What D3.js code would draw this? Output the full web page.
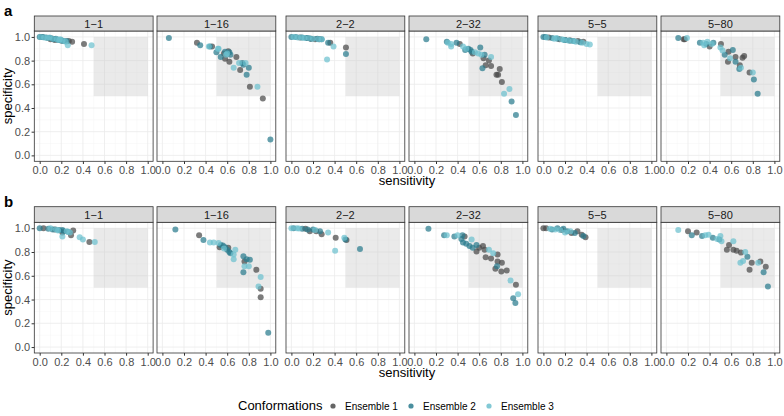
<!DOCTYPE html>
<html><head><meta charset="utf-8">
<script src="https://cdn.jsdelivr.net/npm/d3@7"></script>
<style>body{margin:0;background:#fff}svg{display:block;font-family:"Liberation Sans",Arial,sans-serif}</style>
</head><body><svg id="c" width="784" height="416"></svg>
<script>
// ---- DATA: [sensitivity, specificity, ensemble(1..3)] ----
const panelNames = ["1\u22121","1\u221216","2\u22122","2\u221232","5\u22125","5\u221280"];
const ensembles = ["Ensemble 1","Ensemble 2","Ensemble 3"];
const tickVals = [0,0.2,0.4,0.6,0.8,1.0];
const rowLabels = ["a","b"];

const a_1_1 = [[0.02,1.0,1],[0.08,0.99,1],[0.1,0.98,1],[0.14,0.975,1],[0.2,0.97,1],[0.27,0.965,1],[0.3,0.96,1],[0.41,0.94,1],[0.12,0.985,1],
 [0.0,1.0,2],[0.03,1.0,2],[0.06,0.995,2],[0.1,0.99,2],[0.13,0.98,2],[0.17,0.975,2],[0.2,0.97,2],[0.22,0.965,2],[0.15,0.985,2],[0.25,0.965,2],
 [0.01,1.0,3],[0.04,0.995,3],[0.07,0.99,3],[0.12,0.985,3],[0.16,0.98,3],[0.18,0.975,3],[0.21,0.97,3],[0.26,0.93,3],[0.48,0.93,3],[0.09,0.995,3],[0.19,0.98,3],[0.24,0.96,3]];
const a_1_16 = [[0.32,0.95,1],[0.46,0.92,1],[0.57,0.86,1],[0.61,0.88,1],[0.58,0.815,1],[0.62,0.79,1],[0.685,0.83,1],[0.72,0.72,1],[0.81,0.58,1],[0.93,0.48,1],
 [0.06,0.99,2],[0.35,0.93,2],[0.44,0.92,2],[0.5,0.87,2],[0.54,0.83,2],[0.58,0.875,2],[0.6,0.86,2],[0.63,0.85,2],[0.74,0.78,2],[0.75,0.765,2],[0.8,0.74,2],[0.78,0.68,2],[1.0,0.135,2],[0.62,0.87,2],
 [0.43,0.92,3],[0.52,0.9,3],[0.515,0.9,3],[0.6,0.86,3],[0.66,0.74,3],[0.71,0.78,3],[0.77,0.78,3],[0.88,0.58,3],[0.59,0.85,3]];
const a_2_2 = [[0.08,0.995,1],[0.15,0.99,1],[0.22,0.98,1],[0.26,0.98,1],[0.36,0.95,1],[0.505,0.91,1],[0.18,0.985,1],
 [0.0,1.0,2],[0.04,1.0,2],[0.1,0.995,2],[0.18,0.985,2],[0.24,0.985,2],[0.34,0.95,2],[0.505,0.855,2],[0.14,0.99,2],[0.28,0.98,2],
 [0.02,1.0,3],[0.06,0.995,3],[0.12,0.99,3],[0.2,0.985,3],[0.28,0.98,3],[0.39,0.92,3],[0.33,0.81,3],[0.09,0.995,3],[0.16,0.99,3],[0.25,0.98,3]];
const a_2_32 = [[0.42,0.94,1],[0.54,0.86,1],[0.64,0.82,1],[0.69,0.8,1],[0.66,0.76,1],[0.71,0.755,1],[0.79,0.73,1],[0.76,0.68,1],[0.775,0.68,1],[0.81,0.62,1],
 [0.11,0.98,2],[0.3,0.96,2],[0.39,0.95,2],[0.47,0.89,2],[0.5,0.9,2],[0.53,0.875,2],[0.61,0.91,2],[0.65,0.85,2],[0.63,0.735,2],[0.9,0.455,2],[0.94,0.34,2],[0.52,0.89,2],
 [0.31,0.95,3],[0.34,0.94,3],[0.34,0.92,3],[0.45,0.92,3],[0.59,0.86,3],[0.62,0.85,3],[0.71,0.83,3],[0.88,0.56,3],[0.83,0.52,3],[0.48,0.9,3],[0.56,0.87,3]];
const a_5_5 = [[0.05,0.995,1],[0.15,0.98,1],[0.25,0.97,1],[0.32,0.965,1],[0.37,0.96,1],[0.2,0.975,1],
 [0.0,1.0,2],[0.08,0.99,2],[0.13,0.985,2],[0.2,0.975,2],[0.28,0.965,2],[0.34,0.955,2],[0.02,1.0,2],[0.24,0.97,2],
 [0.03,0.995,3],[0.1,0.985,3],[0.17,0.98,3],[0.23,0.97,3],[0.3,0.96,3],[0.4,0.94,3],[0.43,0.935,3],[0.12,0.99,3],[0.19,0.975,3],[0.27,0.965,3],[0.36,0.95,3]];
const a_5_80 = [[0.16,0.98,1],[0.17,0.98,1],[0.4,0.92,1],[0.505,0.94,1],[0.575,0.875,1],[0.57,0.79,1],[0.64,0.83,1],[0.68,0.76,1],[0.705,0.825,1],[0.72,0.84,1],[0.77,0.7,1],
 [0.11,0.99,2],[0.31,0.95,2],[0.435,0.95,2],[0.54,0.85,2],[0.615,0.89,2],[0.64,0.79,2],[0.675,0.73,2],[0.81,0.64,2],[0.845,0.52,2],[0.37,0.94,2],
 [0.19,0.99,3],[0.34,0.95,3],[0.35,0.93,3],[0.38,0.96,3],[0.5,0.91,3],[0.52,0.885,3],[0.59,0.82,3],[0.69,0.74,3],[0.8,0.7,3],[0.42,0.94,3]];
const b_1_1 = [[0.035,1.0,1],[0.21,0.965,1],[0.31,0.98,1],[0.29,0.94,1],[0.46,0.885,1],[0.14,0.99,1],
 [0.0,1.0,2],[0.08,0.995,2],[0.12,0.99,2],[0.18,0.985,2],[0.22,0.975,2],[0.26,0.97,2],[0.21,0.985,2],
 [0.1,1.0,3],[0.15,0.99,3],[0.21,0.93,3],[0.25,0.975,3],[0.37,0.925,3],[0.4,0.905,3],[0.51,0.885,3],[0.17,0.98,3],[0.28,0.965,3]];
const b_1_16 = [[0.34,0.94,1],[0.53,0.84,1],[0.61,0.835,1],[0.76,0.72,1],[0.87,0.65,1],[0.91,0.49,1],[0.91,0.42,1],
 [0.12,0.99,2],[0.38,0.9,2],[0.54,0.86,2],[0.56,0.855,2],[0.58,0.84,2],[0.6,0.82,2],[0.63,0.79,2],[0.75,0.765,2],[0.78,0.74,2],[0.81,0.735,2],[0.75,0.63,2],[0.98,0.12,2],[0.62,0.8,2],
 [0.44,0.88,3],[0.475,0.88,3],[0.52,0.875,3],[0.66,0.78,3],[0.675,0.82,3],[0.66,0.74,3],[0.76,0.68,3],[0.8,0.68,3],[0.91,0.59,3],[0.89,0.51,3],[0.57,0.83,3]];
const b_2_2 = [[0.13,0.995,1],[0.17,0.975,1],[0.23,0.975,1],[0.28,0.95,1],[0.41,0.92,1],[0.51,0.9,1],
 [0.02,1.0,2],[0.2,0.99,2],[0.265,0.975,2],[0.5,0.905,2],[0.635,0.825,2],[0.1,0.995,2],[0.15,0.99,2],
 [0.0,1.0,3],[0.07,0.997,3],[0.34,0.965,3],[0.49,0.92,3],[0.405,0.81,3],[0.05,1.0,3],[0.22,0.985,3]];
const b_2_32 = [[0.465,0.93,1],[0.575,0.805,1],[0.6,0.835,1],[0.635,0.85,1],[0.65,0.82,1],[0.77,0.78,1],[0.66,0.755,1],[0.71,0.745,1],[0.81,0.71,1],[0.77,0.72,1],[0.75,0.66,1],[0.805,0.635,1],[0.855,0.645,1],[0.94,0.525,1],
 [0.13,0.995,2],[0.275,0.94,2],[0.37,0.93,2],[0.445,0.94,2],[0.435,0.91,2],[0.45,0.88,2],[0.48,0.87,2],[0.51,0.85,2],[0.54,0.835,2],[0.575,0.86,2],[0.765,0.68,2],[0.915,0.41,2],[0.935,0.37,2],
 [0.3,0.94,3],[0.4,0.94,3],[0.53,0.905,3],[0.69,0.82,3],[0.73,0.79,3],[0.89,0.56,3],[0.96,0.445,3]];
const b_5_5 = [[0.0,1.0,1],[0.025,1.0,1],[0.26,0.96,1],[0.315,0.975,1],[0.355,0.945,1],[0.39,0.925,1],[0.17,0.985,1],
 [0.08,0.99,2],[0.13,1.0,2],[0.185,0.995,2],[0.37,0.935,2],[0.22,0.975,2],[0.29,0.96,2],
 [0.155,0.985,3],[0.2,0.965,3],[0.25,0.975,3],[0.06,0.995,3],[0.11,0.99,3]];
const b_5_80 = [[0.2,0.975,1],[0.28,0.965,1],[0.56,0.82,1],[0.58,0.86,1],[0.62,0.82,1],[0.65,0.81,1],[0.69,0.795,1],[0.77,0.65,1],[0.79,0.71,1],[0.87,0.72,1],[0.92,0.675,1],
 [0.235,0.94,2],[0.33,0.935,2],[0.43,0.92,2],[0.49,0.905,2],[0.75,0.76,2],[0.9,0.63,2],[0.94,0.51,2],
 [0.11,0.985,3],[0.36,0.94,3],[0.39,0.945,3],[0.47,0.91,3],[0.5,0.935,3],[0.51,0.89,3],[0.62,0.89,3],[0.73,0.8,3],[0.71,0.725,3],[0.685,0.71,3],[0.85,0.71,3]];
const rowsData = [[a_1_1,a_1_16,a_2_2,a_2_32,a_5_5,a_5_80],[b_1_1,b_1_16,b_2_2,b_2_32,b_5_5,b_5_80]];

// ---- LAYOUT ----
const colors = ["#4a4a4a","#2a7b8e","#6cc0ce"];
const panelLefts = [34.3,157,286,409,538,661];
const panelW = 118.8;
const rows = [{stripTop:16, top:31, bottom:161.3, lab:11, title:181},
              {stripTop:206.7, top:222.3, bottom:353, lab:202, title:373}];
const svg = d3.select("#c");
const fmt = d3.format(".1f");
const minor = [0.1,0.3,0.5,0.7,0.9];

rows.forEach((R, ri) => {
  const y = d3.scaleLinear().domain([-0.05,1.05]).range([R.bottom, R.top]);
  panelLefts.forEach((L, pi) => {
    const x = d3.scaleLinear().domain([-0.05,1.05]).range([L, L+panelW]);
    const g = svg.append("g");
    minor.forEach(v => {
      g.append("line").attr("x1",x(v)).attr("x2",x(v)).attr("y1",R.top).attr("y2",R.bottom).attr("stroke","#f4f4f4").attr("stroke-width",0.5);
      g.append("line").attr("y1",y(v)).attr("y2",y(v)).attr("x1",L).attr("x2",L+panelW).attr("stroke","#f4f4f4").attr("stroke-width",0.5);
    });
    tickVals.forEach(v => {
      g.append("line").attr("x1",x(v)).attr("x2",x(v)).attr("y1",R.top).attr("y2",R.bottom).attr("stroke","#ebebeb").attr("stroke-width",0.8);
      g.append("line").attr("y1",y(v)).attr("y2",y(v)).attr("x1",L).attr("x2",L+panelW).attr("stroke","#ebebeb").attr("stroke-width",0.8);
    });
    g.append("rect").attr("x",x(0.5)).attr("y",y(1)).attr("width",x(1)-x(0.5)).attr("height",y(0.5)-y(1))
      .attr("fill","#c8c8c8").attr("opacity",0.38);
    g.selectAll("circle.p").data(rowsData[ri][pi]).join("circle")
      .attr("cx",d=>x(d[0])).attr("cy",d=>y(d[1])).attr("r",3.0)
      .attr("fill",d=>colors[d[2]-1]).attr("opacity",0.72);
    g.append("rect").attr("x",L).attr("y",R.top).attr("width",panelW).attr("height",R.bottom-R.top)
      .attr("fill","none").attr("stroke","#333").attr("stroke-width",0.8);
    g.append("rect").attr("x",L).attr("y",R.stripTop).attr("width",panelW).attr("height",R.top-R.stripTop)
      .attr("fill","#d9d9d9").attr("stroke","#333").attr("stroke-width",0.8);
    g.append("text").attr("x",L+panelW/2).attr("y",(R.stripTop+R.top)/2+4).attr("text-anchor","middle")
      .attr("font-size",11).attr("fill","#1a1a1a").text(panelNames[pi]);
    const xa = g.append("g").attr("transform",`translate(0,${R.bottom})`)
      .call(d3.axisBottom(x).tickValues(tickVals).tickFormat(fmt).tickSize(2.7).tickPadding(2));
    xa.select(".domain").remove();
    xa.selectAll("line").attr("stroke","#333");
    xa.selectAll("text").attr("font-size",11).attr("fill","#4d4d4d").attr("font-family","Liberation Sans, Arial, sans-serif");
    if (pi === 0) {
      const ya = g.append("g").attr("transform",`translate(${L},0)`)
        .call(d3.axisLeft(y).tickValues(tickVals).tickFormat(fmt).tickSize(2.7).tickPadding(1.5));
      ya.select(".domain").remove();
      ya.selectAll("line").attr("stroke","#333");
      ya.selectAll("text").attr("font-size",11).attr("fill","#4d4d4d").attr("font-family","Liberation Sans, Arial, sans-serif");
    }
  });
  svg.append("text").attr("transform",`translate(12,${(R.top+R.bottom)/2}) rotate(-90)`).attr("text-anchor","middle")
    .attr("font-size",13).attr("fill","#000").text("specificity");
  svg.append("text").attr("x",407).attr("y",R.title+4).attr("text-anchor","middle")
    .attr("font-size",13).attr("fill","#000").text("sensitivity");
  svg.append("text").attr("x",4).attr("y",R.lab+5).attr("font-size",15).attr("font-weight","bold").attr("fill","#000").text(rowLabels[ri]);
});

const lg = svg.append("g");
lg.append("text").attr("x",238).attr("y",410).attr("font-size",13).attr("fill","#000").text("Conformations");
const lx = [333,411,489];
ensembles.forEach((e,i)=>{
  lg.append("circle").attr("cx",lx[i]).attr("cy",406).attr("r",2.6).attr("fill",colors[i]).attr("opacity",0.85);
  lg.append("text").attr("x",lx[i]+12).attr("y",409.5).attr("font-size",10).attr("fill","#000").text(e);
});
</script></body></html>
